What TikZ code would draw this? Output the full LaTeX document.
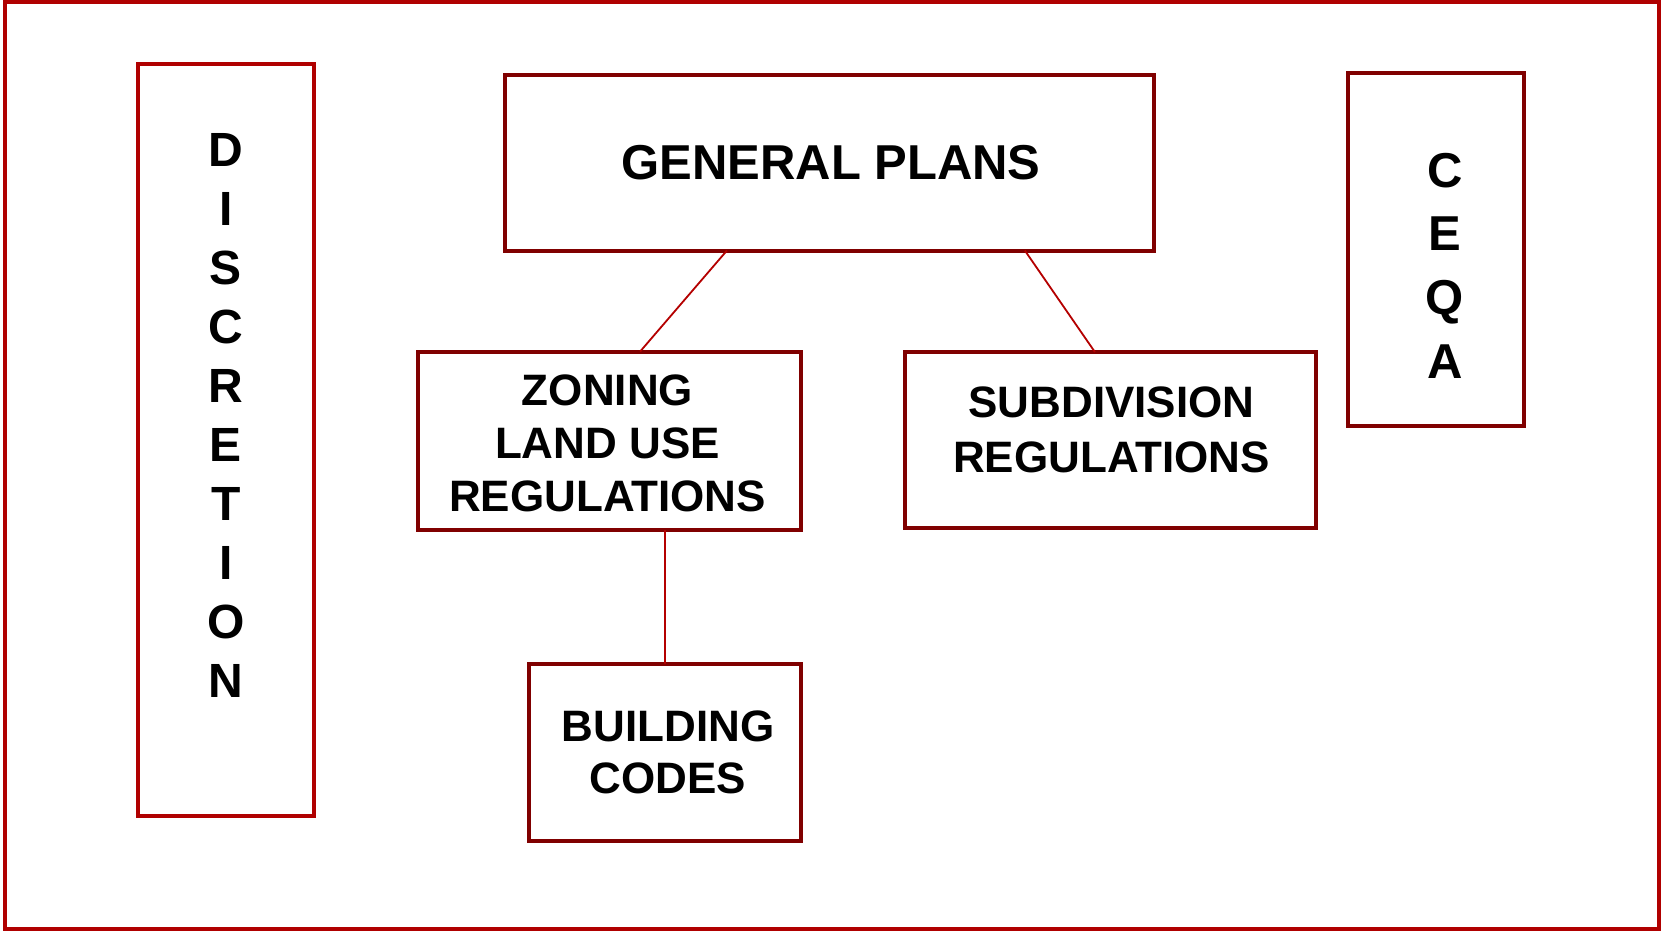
\documentclass[tikz,border=0pt]{standalone}
\usepackage{fontspec}
\setmainfont{Liberation Sans}
\usetikzlibrary{calc}
\definecolor{framered}{RGB}{176,0,0}
\definecolor{boxred}{RGB}{128,0,0}
\definecolor{linkred}{RGB}{180,0,0}
\begin{document}
\begin{tikzpicture}[x=1pt,y=-1pt,
  darkbox/.style={draw=boxred,line width=4pt,rectangle,inner sep=0pt,outer sep=0pt,fill=white},
  redbox/.style={draw=framered,line width=4pt,rectangle,inner sep=0pt,outer sep=0pt,fill=white},
  lbl/.style={inner sep=0pt,align=center,text=black},
  link/.style={draw=linkred,line width=1.8pt}]
\useasboundingbox (0,0) rectangle (1661,932);
% outer frame
\draw[framered,line width=4pt] (5,2) rectangle (1659,929);

% boxes
\node[redbox,minimum width=176pt,minimum height=752pt] (disc) at (226,440) {};
\node[darkbox,minimum width=649pt,minimum height=175.5pt] (gp) at (829.5,162.75) {};
\node[darkbox,minimum width=383pt,minimum height=178.5pt] (zon) at (609.5,440.75) {};
\node[darkbox,minimum width=411pt,minimum height=176pt] (sub) at (1110.5,440) {};
\node[darkbox,minimum width=272pt,minimum height=177pt] (bld) at (665,752.5) {};
\node[darkbox,minimum width=176pt,minimum height=353pt] (ceqa) at (1436,249.5) {};

% connectors
\draw[link] ($(gp.south west)!0.342!(gp.south east)$) -- ($(zon.north west)!0.58!(zon.north east)$);
\draw[link] ($(gp.south west)!0.801!(gp.south east)$) -- ($(sub.north west)!0.462!(sub.north east)$);
\draw[link] ($(zon.south west)!0.645!(zon.south east)$) -- (bld.north);

% labels
\node[lbl,font=\fontsize{49}{58}\selectfont\bfseries] (gpt) at (831,162.7) {GENERAL PLANS};
\node[lbl,font=\fontsize{44}{53}\selectfont\bfseries] (zont) at (607.5,443) {ZONING\\LAND USE\\REGULATIONS};
\node[lbl,font=\fontsize{44}{55}\selectfont\bfseries] (subt) at (1111.5,430) {SUBDIVISION\\REGULATIONS};
\node[lbl,font=\fontsize{44}{52}\selectfont\bfseries] (bldt) at (668,752) {BUILDING\\CODES};
\node[lbl,font=\fontsize{48}{59.1}\selectfont\bfseries] (disct) at (226,415.5) {D\\I\\S\\C\\R\\E\\T\\I\\O\\N};
\node[lbl,font=\fontsize{49}{63.7}\selectfont\bfseries] (ceqat) at (1445,265.5) {C\\E\\Q\\A};
\end{tikzpicture}
\end{document}
